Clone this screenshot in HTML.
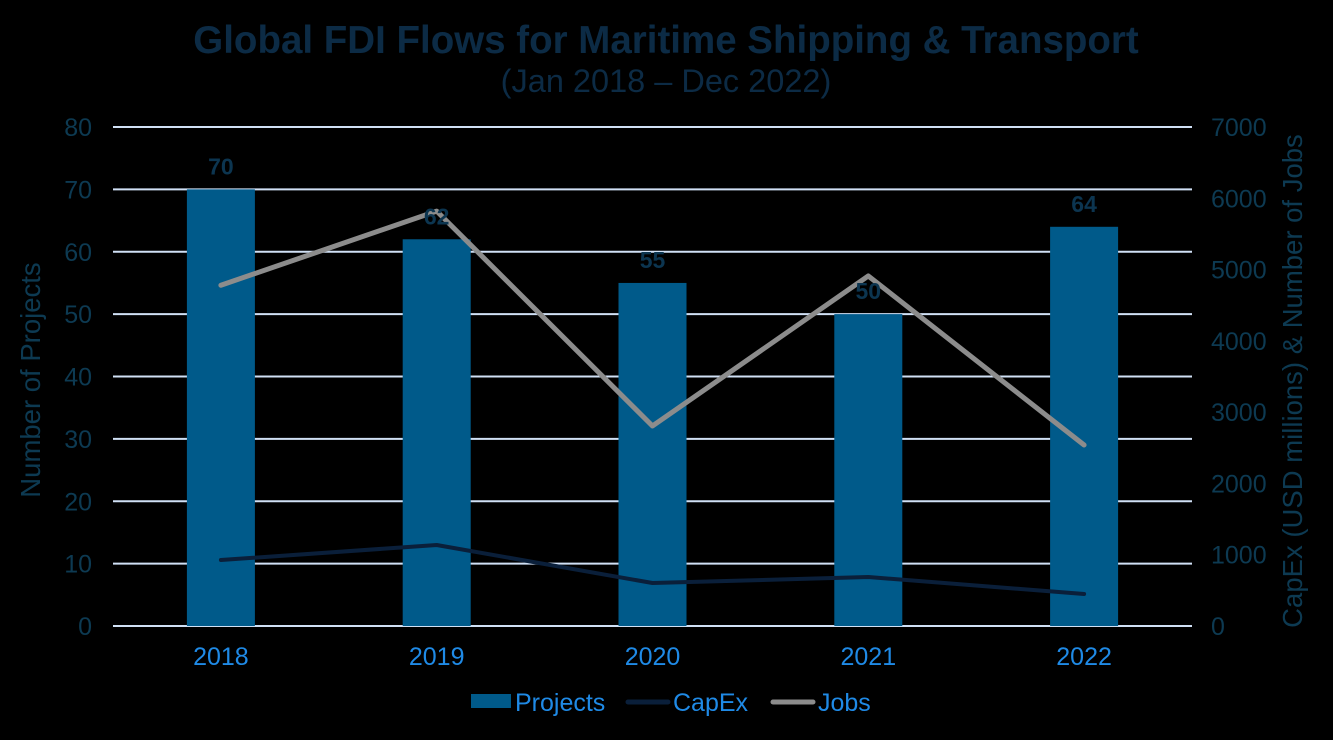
<!DOCTYPE html>
<html><head><meta charset="utf-8"><style>
body{margin:0;background:#000;width:1333px;height:735px;overflow:hidden;font-family:"Liberation Sans",sans-serif}
</style></head><body>
<svg id="c" width="1333" height="735" xmlns="http://www.w3.org/2000/svg">
<text x="666" y="53" text-anchor="middle" font-size="38.5" font-weight="bold" fill="#0c2b45">Global FDI Flows for Maritime Shipping &amp; Transport</text>
<text x="666" y="92" text-anchor="middle" font-size="32.5" fill="#0c2b45">(Jan 2018 – Dec 2022)</text>
<text transform="translate(40,380) rotate(-90)" text-anchor="middle" font-size="27.5" fill="#0d3a52">Number of Projects</text>
<text transform="translate(1302,381) rotate(-90)" text-anchor="middle" font-size="27.5" fill="#0d3a52">CapEx (USD millions) &amp; Number of Jobs</text>
<g id="grid"></g><g id="bars"></g><g id="lines"></g><g id="labels"></g>
<g>
<rect x="471" y="694" width="40" height="14" fill="#005a8a"/>
<text x="515" y="711" font-size="25" fill="#1f8ae6">Projects</text>
<line x1="628" y1="702" x2="668" y2="702" stroke="#0a1f3a" stroke-width="5" stroke-linecap="round"/>
<text x="673" y="711" font-size="25" fill="#1f8ae6">CapEx</text>
<line x1="773" y1="702" x2="813" y2="702" stroke="#8c8c8c" stroke-width="5" stroke-linecap="round"/>
<text x="818" y="711" font-size="25" fill="#1f8ae6">Jobs</text>
</g>
</svg>
<script>
const categories=["2018","2019","2020","2021","2022"];
const projects=[70,62,55,50,64];
const capex=[926,1136,603,687,449];
const jobs=[4780,5820,2806,4910,2539];
const leftTicks=[0,10,20,30,40,50,60,70,80];
const rightTicks=[0,1000,2000,3000,4000,5000,6000,7000];
const NS="http://www.w3.org/2000/svg";
const x0=113,x1=1192,yB=626,yT=127;
const yL=v=>yB-(v/80)*(yB-yT);
const yR=v=>yB-(v/7000)*(yB-yT);
const band=(x1-x0)/categories.length;
const xc=i=>x0+band*(i+0.5);
function mk(t,a,p){const e=document.createElementNS(NS,t);for(const k in a)e.setAttribute(k,a[k]);(p||document.getElementById('c')).appendChild(e);return e;}
const grid=document.getElementById('grid');
leftTicks.forEach(v=>{
 const l=mk('line',{x1:x0,x2:x1,y1:yL(v),y2:yL(v),stroke:'#d0e0f5','stroke-width':2},grid);
 
 
 const t=mk('text',{x:92,y:yL(v)+9,'text-anchor':'end','font-size':25,fill:'#0d3a52'},grid);t.textContent=v;
 
 
});
rightTicks.forEach(v=>{
 const t=mk('text',{x:1211,y:yR(v)+9,'font-size':25,fill:'#0d3a52'},grid);t.textContent=v;
 
 
});
const bars=document.getElementById('bars'),labels=document.getElementById('labels');
categories.forEach((c,i)=>{
 const r=mk('rect',{x:xc(i)-34,y:yL(projects[i]),width:68,height:yB-yL(projects[i]),fill:'#005a8a'},bars);
 
 
 const t=mk('text',{x:xc(i),y:yL(projects[i])-15,'text-anchor':'middle','font-size':23,'font-weight':'bold',fill:'#0c3550'},labels);t.textContent=projects[i];
 
 
 const x=mk('text',{x:xc(i),y:665,'text-anchor':'middle','font-size':25,fill:'#1f8ae6'},labels);x.textContent=c;
 
 
});
const lines=document.getElementById('lines');
const p1=mk('polyline',{points:capex.map((v,i)=>xc(i)+','+yR(v)).join(' '),fill:'none',stroke:'#0a1f3a','stroke-width':4,'stroke-linecap':'round','stroke-linejoin':'round'},lines);


const p2=mk('polyline',{points:jobs.map((v,i)=>xc(i)+','+yR(v)).join(' '),fill:'none',stroke:'#8c8c8c','stroke-width':5,'stroke-linecap':'round','stroke-linejoin':'round'},lines);


</script>
</body></html>
